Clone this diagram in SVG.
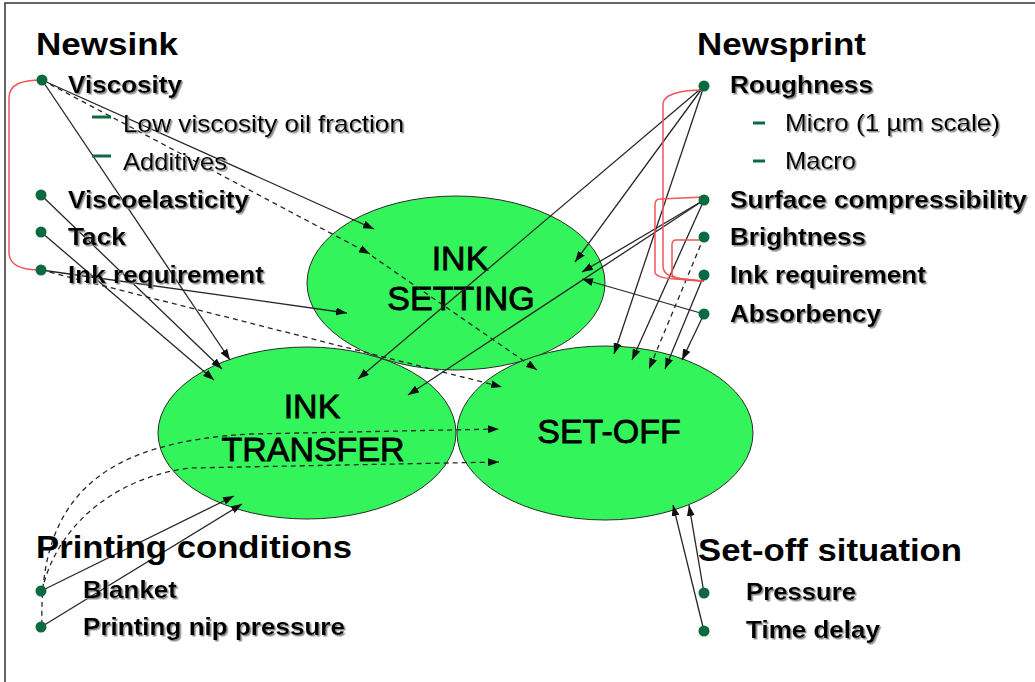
<svg xmlns="http://www.w3.org/2000/svg" width="1035" height="682" viewBox="0 0 1035 682">
  <defs>
    <style>
      .frame { fill: none; stroke: #333; stroke-width: 1.5; }
      .blob { fill: #33F45A; stroke: #2b2b2b; stroke-width: 1; }
      .blabel { font-family: "Liberation Sans", Arial, sans-serif; font-size: 34px; fill: #000; stroke: #000; stroke-width: 0.8; text-anchor: middle; }
      .head { font-family: "Liberation Sans", Arial, sans-serif; font-size: 32px; font-weight: bold; fill: #000; }
      .item { font-family: "Liberation Sans", Arial, sans-serif; font-size: 24px; font-weight: bold; fill: #000; filter: url(#shadow); }
      .sub { font-family: "Liberation Sans", Arial, sans-serif; font-size: 24px; fill: #000; filter: url(#shadow); }
      .dot { fill: #0B6A40; }
      .dash { stroke: #0B6A40; stroke-width: 3; }
      .link { fill: none; stroke: #262626; stroke-width: 1.3; marker-end: url(#arrow); }
      .dotted { stroke-dasharray: 5 4; }
      .bracket { fill: none; stroke: #F0555A; stroke-width: 1.5; }
    </style>
    <marker id="arrow" markerUnits="userSpaceOnUse" markerWidth="11" markerHeight="8" refX="11" refY="4" orient="auto">
      <path d="M0,0 L11,4 L0,8 z" fill="#111"/>
    </marker>
    <filter id="shadow" x="-5%" y="-20%" width="115%" height="150%">
      <feDropShadow dx="1.5" dy="1.5" stdDeviation="0.4" flood-color="#8a8a8a" flood-opacity="1"/>
    </filter>
  </defs>

  <rect width="1035" height="682" fill="#fff"/>
  <rect class="frame" x="5" y="3" width="1100" height="760"/>

  <!-- process ellipses -->
  <g id="ink-setting">
    <ellipse class="blob" cx="456" cy="283" rx="149" ry="87"/>
    <text class="blabel" x="460" y="270">INK</text>
    <text class="blabel" x="461" y="310">SETTING</text>
  </g>
  <g id="ink-transfer">
    <ellipse class="blob" cx="307" cy="433" rx="149" ry="86"/>
    <text class="blabel" x="312" y="418">INK</text>
    <text class="blabel" x="313" y="461">TRANSFER</text>
  </g>
  <g id="set-off">
    <ellipse class="blob" cx="605" cy="433" rx="148" ry="87"/>
    <text class="blabel" x="609" y="443">SET-OFF</text>
  </g>

  <!-- influence arrows and grouping brackets -->
  <g id="connectors">
    <!-- newsink -->
    <path class="link" d="M42,80 L374,229"/>
    <path class="link dotted" d="M42,80 L370,254"/>
    <path class="link dotted" d="M372,256 L537,370"/>
    <path class="link" d="M42,80 L230,360"/>
    <path class="link" d="M41,195 L222,369"/>
    <path class="link" d="M41,232 L214,380"/>
    <path class="link" d="M41,270 L347,313"/>
    <path class="link dotted" d="M41,270 L502,387"/>
    <!-- newsprint -->
    <path class="link" d="M704,86 L575,262"/>
    <path class="link" d="M704,86 L358,379"/>
    <path class="link" d="M704,86 L614,354"/>
    <path class="link" d="M704,200 L582,272"/>
    <path class="link" d="M704,200 L408,395"/>
    <path class="link" d="M704,200 L632,360"/>
    <path class="link dotted" d="M704,237 L649,369"/>
    <path class="link" d="M704,275 L665,369"/>
    <path class="link" d="M704,314 L582,279"/>
    <path class="link" d="M704,314 L682,360"/>
    <!-- printing conditions -->
    <path class="link" d="M41,591 L234,496"/>
    <path class="link" d="M41,627 L242,504"/>
    <path class="link dotted" d="M42,625 C38,490 110,442 250,434 L499,429"/>
    <path class="link dotted" d="M42,591 C55,530 110,478 190,468 L499,462"/>
    <!-- set-off situation -->
    <path class="link" d="M704,593 L689,505"/>
    <path class="link" d="M704,631 L673,505"/>
    <!-- brackets -->
    <path class="bracket" d="M42,80 C22,80 9,84 9,98 L9,252 C9,265 20,270 41,270"/>
    <path class="bracket" d="M704,90 C682,90 663,94 663,104 L663,266 C663,276 672,279 704,281"/>
    <path class="bracket" d="M704,197 L660,199 C656,199 655,201 655,205 L655,272 C655,277 662,279 704,281"/>
    <path class="bracket" d="M704,240 L676,240 C673,240 672,242 672,245 L672,274 C672,278 680,280 704,281"/>
  </g>

  <!-- newsink properties -->
  <g id="newsink">
    <text class="head" x="36" y="55" textLength="142" lengthAdjust="spacingAndGlyphs">Newsink</text>
    <circle class="dot" cx="42" cy="80" r="5.5"/>
    <text class="item" x="68" y="93" textLength="114" lengthAdjust="spacingAndGlyphs">Viscosity</text>
    <line class="dash" x1="92" y1="117" x2="111" y2="117"/>
    <text class="sub" x="123" y="132" textLength="281" lengthAdjust="spacingAndGlyphs">Low viscosity oil fraction</text>
    <line class="dash" x1="92" y1="156" x2="111" y2="156"/>
    <text class="sub" x="123" y="170" textLength="104" lengthAdjust="spacingAndGlyphs">Additives</text>
    <circle class="dot" cx="41" cy="195" r="5.5"/>
    <text class="item" x="68" y="208" textLength="181" lengthAdjust="spacingAndGlyphs">Viscoelasticity</text>
    <circle class="dot" cx="41" cy="232" r="5.5"/>
    <text class="item" x="68" y="245" textLength="58" lengthAdjust="spacingAndGlyphs">Tack</text>
    <circle class="dot" cx="41" cy="270" r="5.5"/>
    <text class="item" x="68" y="283" textLength="196" lengthAdjust="spacingAndGlyphs">Ink requirement</text>
  </g>

  <!-- newsprint properties -->
  <g id="newsprint">
    <text class="head" x="697" y="55" textLength="169" lengthAdjust="spacingAndGlyphs">Newsprint</text>
    <circle class="dot" cx="704" cy="86" r="5.5"/>
    <text class="item" x="730" y="93" textLength="143" lengthAdjust="spacingAndGlyphs">Roughness</text>
    <line class="dash" x1="753" y1="123" x2="765" y2="123"/>
    <text class="sub" x="785" y="131" textLength="215" lengthAdjust="spacingAndGlyphs">Micro (1 µm scale)</text>
    <line class="dash" x1="753" y1="161" x2="765" y2="161"/>
    <text class="sub" x="785" y="169" textLength="71" lengthAdjust="spacingAndGlyphs">Macro</text>
    <circle class="dot" cx="704" cy="200" r="5.5"/>
    <text class="item" x="730" y="208" textLength="297" lengthAdjust="spacingAndGlyphs">Surface compressibility</text>
    <circle class="dot" cx="704" cy="237" r="5.5"/>
    <text class="item" x="730" y="245" textLength="136" lengthAdjust="spacingAndGlyphs">Brightness</text>
    <circle class="dot" cx="704" cy="275" r="5.5"/>
    <text class="item" x="730" y="283" textLength="196" lengthAdjust="spacingAndGlyphs">Ink requirement</text>
    <circle class="dot" cx="704" cy="314" r="5.5"/>
    <text class="item" x="730" y="322" textLength="151" lengthAdjust="spacingAndGlyphs">Absorbency</text>
  </g>

  <!-- printing conditions -->
  <g id="printing-conditions">
    <text class="head" x="36" y="558" textLength="316" lengthAdjust="spacingAndGlyphs">Printing conditions</text>
    <circle class="dot" cx="41" cy="591" r="5.5"/>
    <text class="item" x="83" y="598" textLength="94" lengthAdjust="spacingAndGlyphs">Blanket</text>
    <circle class="dot" cx="41" cy="627" r="5.5"/>
    <text class="item" x="83" y="635" textLength="262" lengthAdjust="spacingAndGlyphs">Printing nip pressure</text>
  </g>

  <!-- set-off situation -->
  <g id="set-off-situation">
    <text class="head" x="698" y="561" textLength="264" lengthAdjust="spacingAndGlyphs">Set-off situation</text>
    <circle class="dot" cx="704" cy="593" r="5.5"/>
    <text class="item" x="746" y="600" textLength="110" lengthAdjust="spacingAndGlyphs">Pressure</text>
    <circle class="dot" cx="704" cy="631" r="5.5"/>
    <text class="item" x="746" y="638" textLength="134" lengthAdjust="spacingAndGlyphs">Time delay</text>
  </g>
</svg>
